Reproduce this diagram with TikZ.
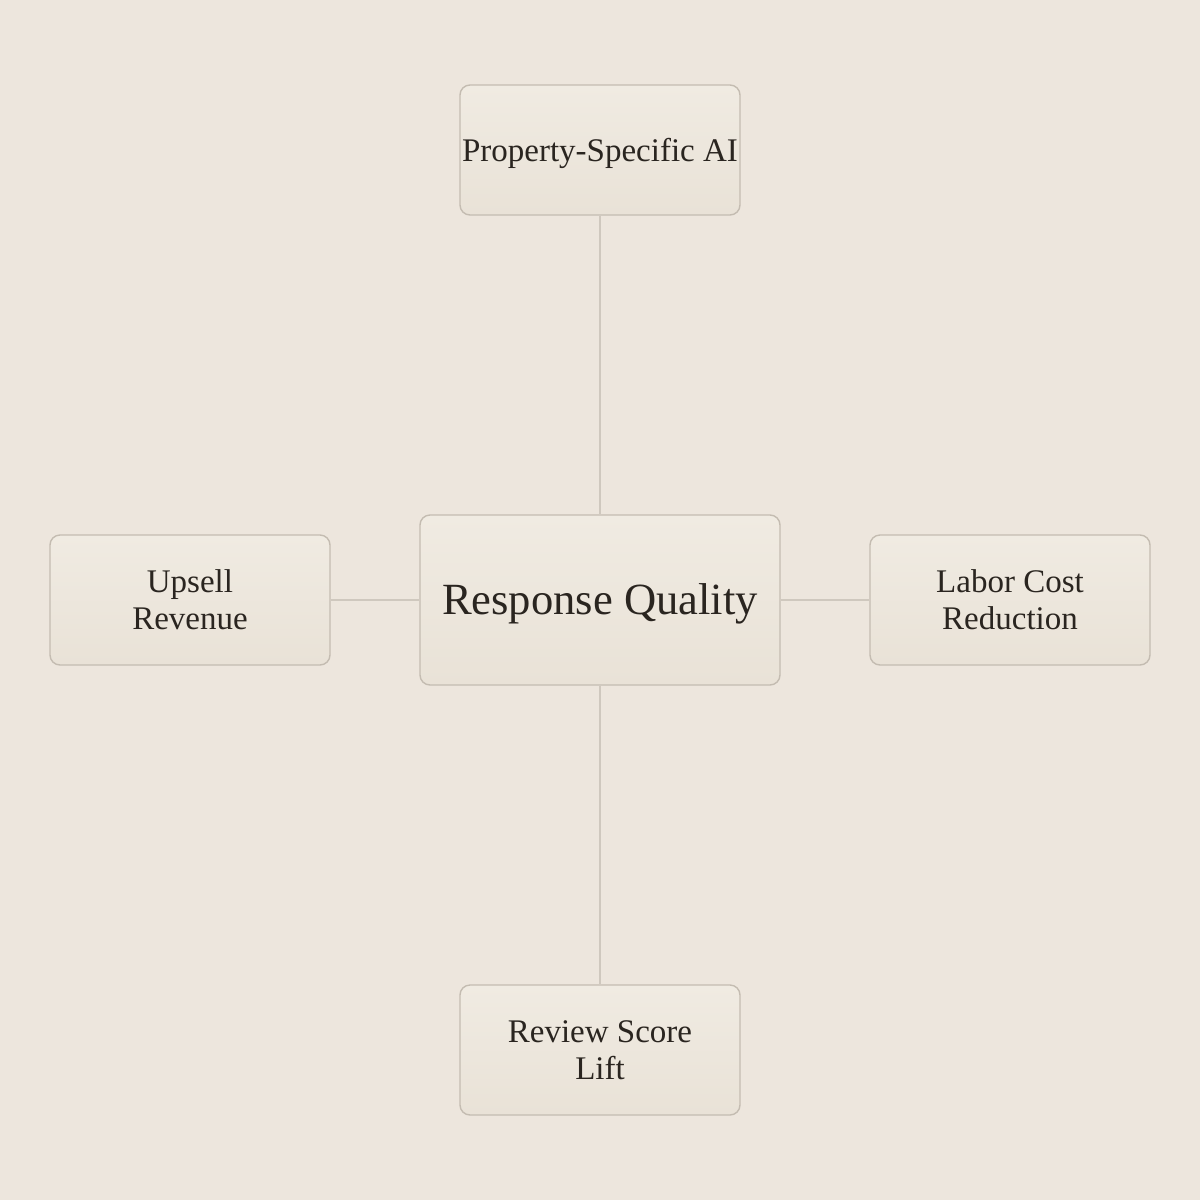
\documentclass[tikz,border=0pt]{standalone}
\usepackage{fontspec}
\setmainfont{Liberation Serif}
\definecolor{bg}{HTML}{EDE6DD}
\definecolor{boxtop}{HTML}{F0EBE2}
\definecolor{boxbot}{HTML}{E9E2D7}
\definecolor{boxline}{HTML}{C4BCB1}
\definecolor{connline}{HTML}{CFC8BE}
\definecolor{ink}{HTML}{2A2520}
\begin{document}
\begin{tikzpicture}[x=1pt,y=-1pt,
  box/.style={draw=boxline, line width=1.4pt, rounded corners=10pt,
    top color=boxtop, bottom color=boxbot,
    minimum width=280pt, minimum height=130pt, inner sep=0pt,
    align=center, text=ink, font=\fontsize{33}{37}\selectfont},
  conn/.style={draw=connline, line width=1.4pt}]
\fill[bg] (0,0) rectangle (1200,1200);
\node[box, text height=22pt, text depth=0pt] (top) at (600,150) {Property-Specific AI};
\node[box, minimum width=360pt, minimum height=170pt, font=\fontsize{44.6}{50}\selectfont, text height=29.5pt, text depth=0pt] (center) at (600,600) {Response Quality};
\node[box] (left) at (190,600) {Upsell\\Revenue};
\node[box] (right) at (1010,600) {Labor Cost\\Reduction};
\node[box] (bottom) at (600,1050) {Review Score\\Lift};
\draw[conn] (top) -- (center);
\draw[conn] (center) -- (bottom);
\draw[conn] (left) -- (center);
\draw[conn] (center) -- (right);
\end{tikzpicture}
\end{document}
